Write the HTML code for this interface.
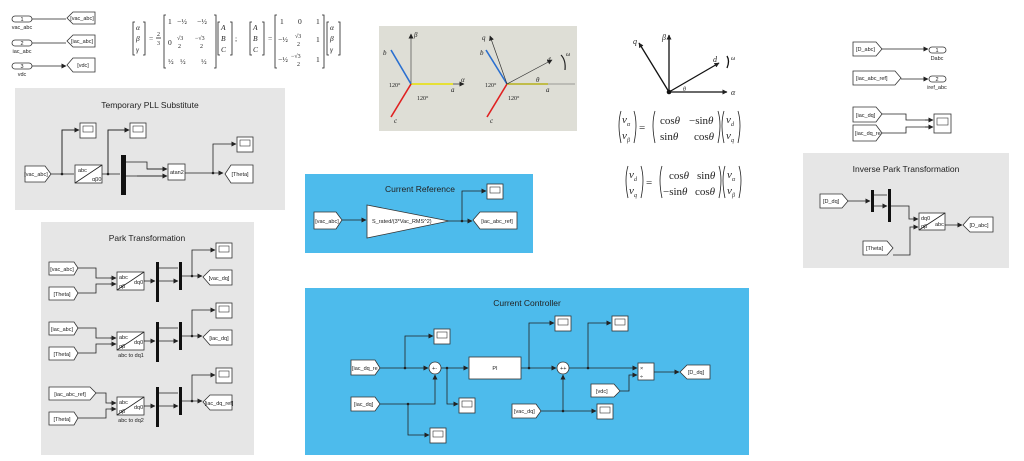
<!DOCTYPE html>
<html><head><meta charset="utf-8"><style>
html,body{margin:0;padding:0;background:#fff;}
svg{display:block;font-family:"Liberation Sans",sans-serif;}
.t{font-size:5.5px;fill:#222}
.ti{font-size:8.5px;fill:#222}
.ln{stroke:#222;stroke-width:0.8;fill:none}
.bk{fill:#fff;stroke:#333;stroke-width:0.8}
.m{font-family:"Liberation Serif",serif;font-style:italic;fill:#222}
.r{font-family:"Liberation Serif",serif;fill:#222}
</style></head><body>
<svg width="1024" height="461" viewBox="0 0 1024 461" xmlns="http://www.w3.org/2000/svg">
<defs>
<marker id="a" markerWidth="5" markerHeight="5" refX="4.5" refY="2.5" orient="auto" markerUnits="userSpaceOnUse"><path d="M0,0 L5,2.5 L0,5 Z" fill="#222"/></marker>
<g id="sc"><rect x="0" y="0" width="16" height="15" class="bk"/><rect x="3" y="3" width="10" height="6" fill="#fff" stroke="#333" stroke-width="0.6"/></g>
</defs>

<!-- top-left inports -->
<g>
<rect x="12" y="16" width="20" height="6" rx="3" class="bk"/><text x="22" y="21" class="t" text-anchor="middle">1</text><text x="22" y="29" class="t" text-anchor="middle">vac_abc</text>
<rect x="12" y="40" width="20" height="6" rx="3" class="bk"/><text x="22" y="45" class="t" text-anchor="middle">2</text><text x="22" y="53" class="t" text-anchor="middle">iac_abc</text>
<rect x="12" y="63" width="20" height="6" rx="3" class="bk"/><text x="22" y="68" class="t" text-anchor="middle">3</text><text x="22" y="76" class="t" text-anchor="middle">vdc</text>
<path d="M32 19H66M32 43H66M32 66H66" class="ln" marker-end="url(#a)"/>
<path d="M95 12H73L67 18L73 24H95Z" class="bk"/><text x="82" y="20" class="t" text-anchor="middle">[vac_abc]</text>
<path d="M95 35H73L67 41L73 47H95Z" class="bk"/><text x="82" y="43" class="t" text-anchor="middle">[iac_abc]</text>
<path d="M95 58H73L67 65L73 72H95Z" class="bk"/><text x="83" y="67" class="t" text-anchor="middle">[vdc]</text>
</g>

<!-- matrices -->
<g font-size="7.5">
<text x="136" y="30" class="m">α</text><text x="136" y="41" class="m">β</text><text x="136" y="52" class="m">γ</text>
<path d="M135 22h-2v33h2M143 22h2v33h-2" class="ln"/>
<text x="149" y="41" class="r">=</text><text x="157" y="36" class="r" font-size="6">2</text><path d="M156 38h5" class="ln"/><text x="157" y="45" class="r" font-size="6">3</text>
<path d="M166 15h-2v53h2M214 15h2v53h-2" class="ln"/>
<text x="168" y="24" class="r">1</text><text x="177" y="24" class="r">−½</text><text x="197" y="24" class="r">−½</text>
<text x="168" y="45" class="r">0</text><text x="177" y="40" class="r" font-size="6">√3</text><text x="178" y="48" class="r" font-size="6">2</text><text x="195" y="40" class="r" font-size="6">−√3</text><text x="200" y="48" class="r" font-size="6">2</text>
<text x="168" y="64" class="r">½</text><text x="180" y="64" class="r">½</text><text x="201" y="64" class="r">½</text>
<path d="M220 22h-2v33h2M230 22h2v33h-2" class="ln"/>
<text x="221" y="30" class="m">A</text><text x="221" y="41" class="m">B</text><text x="221" y="52" class="m">C</text><text x="235" y="41" class="r">;</text>
<path d="M252 22h-2v33h2M262 22h2v33h-2" class="ln"/>
<text x="253" y="30" class="m">A</text><text x="253" y="41" class="m">B</text><text x="253" y="52" class="m">C</text>
<text x="268" y="41" class="r">=</text>
<path d="M277 15h-2v53h2M322 15h2v53h-2" class="ln"/>
<text x="280" y="24" class="r">1</text><text x="298" y="24" class="r">0</text><text x="316" y="24" class="r">1</text>
<text x="278" y="42" class="r">−½</text><text x="295" y="38" class="r" font-size="6">√3</text><text x="297" y="46" class="r" font-size="6">2</text><text x="316" y="42" class="r">1</text>
<text x="278" y="62" class="r">−½</text><text x="291" y="58" class="r" font-size="6">−√3</text><text x="297" y="66" class="r" font-size="6">2</text><text x="316" y="62" class="r">1</text>
<path d="M329 22h-2v33h2M338 22h2v33h-2" class="ln"/>
<text x="330" y="30" class="m">α</text><text x="330" y="41" class="m">β</text><text x="330" y="52" class="m">γ</text>
</g>

<!-- Temporary PLL -->
<rect x="15" y="88" width="270" height="122" fill="#e6e6e6"/>
<text x="150" y="108" class="ti" text-anchor="middle">Temporary PLL Substitute</text>
<path d="M25 166H45L51 174L45 182H25Z" class="bk"/><text x="36" y="176" class="t" text-anchor="middle">[vac_abc]</text>
<path d="M51 174H74M62 174V130H79M102 174H120M108 174V130H129" class="ln" marker-end="url(#a)"/>
<path d="M62 174V130H79" class="ln" marker-end="url(#a)"/>
<path d="M108 174V130H129" class="ln" marker-end="url(#a)"/>
<circle cx="62" cy="174" r="1.3" fill="#222"/><circle cx="108" cy="174" r="1.3" fill="#222"/>
<rect x="75" y="165" width="27" height="18" class="bk"/><path d="M75 183L102 165" class="ln"/><text x="78" y="172" class="t">abc</text><text x="92" y="181" class="t">αβ0</text>
<use href="#sc" x="80" y="123"/><use href="#sc" x="130" y="123"/>
<rect x="121" y="155" width="5" height="40" fill="#111"/>
<path d="M126 162H147V169H167M126 176H137V176H167" class="ln"/>
<path d="M147 169H167" class="ln" marker-end="url(#a)"/><path d="M137 176H167" class="ln" marker-end="url(#a)"/>
<rect x="168" y="164" width="17" height="16" class="bk"/><text x="170" y="174" class="t">atan2</text>
<path d="M185 173H223" class="ln" marker-end="url(#a)"/><path d="M213 173V144H236" class="ln" marker-end="url(#a)"/><circle cx="213" cy="173" r="1.3" fill="#222"/>
<use href="#sc" x="237" y="137"/>
<path d="M253 165H231L225 174L231 183H253Z" class="bk"/><text x="240" y="176" class="t" text-anchor="middle">[Theta]</text>

<!-- Park Transformation -->
<rect x="41" y="222" width="213" height="233" fill="#e6e6e6"/>
<text x="147" y="241" class="ti" text-anchor="middle">Park Transformation</text>
<g id="row">
<path d="M49 262H74L78 268L74 275H49Z" class="bk"/>
<path d="M49 287H74L78 293L74 300H49Z" class="bk"/><text x="62" y="296" class="t" text-anchor="middle">[Theta]</text>
<path d="M78 268H96V278H116M78 293H96V284H116" class="ln"/>
<path d="M110 278H116" class="ln" marker-end="url(#a)"/><path d="M110 284H116" class="ln" marker-end="url(#a)"/>
<rect x="117" y="272" width="27" height="18" class="bk"/><path d="M117 290L144 272" class="ln"/><text x="119" y="279" class="t">abc</text><text x="119" y="288" class="t">αβ</text><text x="134" y="284" class="t">dq0</text>
<path d="M144 281H155" class="ln" marker-end="url(#a)"/>
<rect x="156" y="262" width="3" height="40" fill="#111"/>
<path d="M159 268H178M159 281H178" class="ln" marker-end="url(#a)"/>
<rect x="179" y="262" width="3" height="28" fill="#111"/>
<path d="M182 276H202" class="ln" marker-end="url(#a)"/><path d="M192 276V250H215" class="ln" marker-end="url(#a)"/><circle cx="192" cy="276" r="1.3" fill="#222"/>
<use href="#sc" x="216" y="243"/>
<path d="M232 270H210L203 277L210 285H232Z" class="bk"/>
</g>
<text x="62" y="271" class="t" text-anchor="middle">[vac_abc]</text><text x="219" y="280" class="t" text-anchor="middle">[vac_dq]</text>
<use href="#row" y="60"/>
<text x="62" y="331" class="t" text-anchor="middle">[iac_abc]</text><text x="219" y="340" class="t" text-anchor="middle">[iac_dq]</text><text x="131" y="357" class="t" text-anchor="middle">abc to dq1</text>
<g transform="translate(0,125)">
<path d="M49 262H90L96 268L90 275H49Z" class="bk"/>
<path d="M49 287H74L78 293L74 300H49Z" class="bk"/><text x="62" y="296" class="t" text-anchor="middle">[Theta]</text>
<path d="M96 268H106V278H116M78 293H106V284H116" class="ln"/>
<path d="M110 278H116" class="ln" marker-end="url(#a)"/><path d="M110 284H116" class="ln" marker-end="url(#a)"/>
<rect x="117" y="272" width="27" height="18" class="bk"/><path d="M117 290L144 272" class="ln"/><text x="119" y="279" class="t">abc</text><text x="119" y="288" class="t">αβ</text><text x="134" y="284" class="t">dq0</text>
<path d="M144 281H155" class="ln" marker-end="url(#a)"/>
<rect x="156" y="262" width="3" height="40" fill="#111"/>
<path d="M159 268H178M159 281H178" class="ln" marker-end="url(#a)"/>
<rect x="179" y="262" width="3" height="28" fill="#111"/>
<path d="M182 276H202" class="ln" marker-end="url(#a)"/><path d="M192 276V250H215" class="ln" marker-end="url(#a)"/><circle cx="192" cy="276" r="1.3" fill="#222"/>
<use href="#sc" x="216" y="243"/>
<path d="M232 270H210L203 277L210 285H232Z" class="bk"/>
</g>
<text x="70" y="396" class="t" text-anchor="middle">[iac_abc_ref]</text><text x="219" y="405" class="t" text-anchor="middle">[iac_dq_ref]</text><text x="131" y="422" class="t" text-anchor="middle">abc to dq2</text>

<!-- image panel -->
<rect x="379" y="26" width="198" height="105" fill="#deded6"/>
<g stroke-width="1.6">
<path d="M411 84V34" stroke="#333" stroke-width="0.6" marker-end="url(#a)"/>
<path d="M411 84H464" stroke="#333" stroke-width="0.7" marker-end="url(#a)"/>
<path d="M411 84H453" stroke="#e8e000" stroke-width="1.4"/>
<path d="M411 84L391 50" stroke="#2a6fd0"/><path d="M411 84L391 117" stroke="#e02020"/>
<path d="M507 84L486 50" stroke="#2a6fd0"/><path d="M507 84L487 117" stroke="#e02020"/>
<path d="M507 84H548" stroke="#e8e000" stroke-width="1.4"/>
<path d="M507 84H575" stroke="#555" stroke-width="0.5"/>
<path d="M507 84L490 36" stroke="#333" stroke-width="0.7" marker-end="url(#a)"/>
<path d="M507 84L552 60" stroke="#333" stroke-width="0.7" marker-end="url(#a)"/>
<path d="M561 55Q566 60 565 70" stroke="#222" stroke-width="1.2" fill="none"/>
</g>
<g class="m" font-size="7"><text x="414" y="37">β</text><text x="383" y="55">b</text><text x="394" y="123">c</text><text x="461" y="82">α</text><text x="451" y="92">a</text>
<text x="482" y="40">q</text><text x="480" y="55">b</text><text x="490" y="123">c</text><text x="547" y="62">d</text><text x="536" y="82">θ</text><text x="546" y="92">a</text><text x="566" y="56" font-size="6">ω</text></g>
<g class="r" font-size="6"><text x="389" y="87">120°</text><text x="417" y="100">120°</text><text x="485" y="87">120°</text><text x="508" y="100">120°</text></g>

<!-- Current Reference -->
<rect x="305" y="174" width="228" height="79" fill="#4dbbec"/>
<text x="420" y="192" class="ti" text-anchor="middle">Current Reference</text>
<path d="M314 212H336L342 220L336 229H314Z" class="bk"/><text x="327" y="223" class="t" text-anchor="middle">[vac_abc]</text>
<path d="M342 220H366" class="ln" marker-end="url(#a)"/>
<path d="M367 205L449 221L367 238Z" class="bk"/><text x="372" y="223" class="t">S_rated/(3*Vac_RMS^2)</text>
<path d="M449 221H472" class="ln" marker-end="url(#a)"/><path d="M462 221V191H486" class="ln" marker-end="url(#a)"/><circle cx="462" cy="221" r="1.3" fill="#222"/>
<use href="#sc" x="487" y="184"/>
<path d="M517 212H480L473 220L480 229H517Z" class="bk"/><text x="497" y="223" class="t" text-anchor="middle">[iac_abc_ref]</text>

<!-- Current Controller -->
<rect x="305" y="288" width="444" height="167" fill="#4dbbec"/>
<text x="527" y="306" class="ti" text-anchor="middle">Current Controller</text>
<path d="M351 360H375L380 368L375 375H351Z" class="bk"/><text x="352" y="370" class="t">[iac_dq_re</text>
<path d="M380 368H428" class="ln" marker-end="url(#a)"/><path d="M405 368V336H433" class="ln" marker-end="url(#a)"/><circle cx="405" cy="368" r="1.3" fill="#222"/>
<use href="#sc" x="434" y="329"/>
<circle cx="435" cy="368" r="6" class="bk"/><text x="432" y="370" class="t">+-</text>
<path d="M351 397H375L380 404L375 411H351Z" class="bk"/><text x="354" y="406" class="t">[iac_dq]</text>
<path d="M380 404H435V375" class="ln" marker-end="url(#a)"/><path d="M408 404V435H429" class="ln" marker-end="url(#a)"/><circle cx="408" cy="404" r="1.3" fill="#222"/>
<use href="#sc" x="430" y="428"/>
<path d="M441 368H468" class="ln" marker-end="url(#a)"/><path d="M447 368V404H458" class="ln" marker-end="url(#a)"/><circle cx="447" cy="368" r="1.3" fill="#222"/>
<use href="#sc" x="459" y="398"/>
<rect x="469" y="357" width="52" height="22" class="bk"/><text x="495" y="370" class="t" text-anchor="middle">PI</text>
<path d="M521 368H556" class="ln" marker-end="url(#a)"/><path d="M529 368V323H554" class="ln" marker-end="url(#a)"/><circle cx="529" cy="368" r="1.3" fill="#222"/>
<use href="#sc" x="555" y="316"/>
<circle cx="563" cy="368" r="6" class="bk"/><text x="560" y="370" class="t">++</text>
<path d="M541 411H563V375" class="ln" marker-end="url(#a)"/><path d="M563 411H596" class="ln" marker-end="url(#a)"/><circle cx="563" cy="411" r="1.3" fill="#222"/>
<path d="M512 404H536L541 411L536 418H512Z" class="bk"/><text x="514" y="413" class="t">[vac_dq]</text>
<use href="#sc" x="597" y="404"/>
<path d="M569 368H637" class="ln" marker-end="url(#a)"/><path d="M588 368V323H611" class="ln" marker-end="url(#a)"/><circle cx="588" cy="368" r="1.3" fill="#222"/>
<use href="#sc" x="612" y="316"/>
<path d="M591 384H614L620 391L614 397H591Z" class="bk"/><text x="596" y="393" class="t">[vdc]</text>
<path d="M620 391H629V375H637" class="ln" marker-end="url(#a)"/>
<rect x="638" y="363" width="16" height="17" class="bk"/><text x="640" y="370" class="t">×</text><text x="640" y="378" class="t">÷</text>
<path d="M654 372H679" class="ln" marker-end="url(#a)"/>
<path d="M710 365H687L680 372L687 379H710Z" class="bk"/><text x="696" y="374" class="t" text-anchor="middle">[D_dq]</text>

<!-- dq axes -->
<g stroke="#111" stroke-width="1.3">
<path d="M669 92V35" marker-end="url(#a)"/><path d="M669 92H727" marker-end="url(#a)"/>
<path d="M669 92L639 43" marker-end="url(#a)"/><path d="M669 92L719 63" marker-end="url(#a)"/>
<path d="M727 56Q730 61 727 68" fill="none"/>
</g>
<circle cx="669" cy="92" r="2.3" fill="#111"/>
<g class="m" font-size="8"><text x="662" y="40">β</text><text x="633" y="44">q</text><text x="713" y="62">d</text><text x="731" y="60" font-size="6">ω</text><text x="683" y="91" font-size="6">θ</text><text x="731" y="95">α</text></g>
<g class="r" font-size="11">
<text x="622" y="123"><tspan class="m">v</tspan></text><text x="627" y="126" class="m" font-size="6">α</text>
<text x="622" y="139" class="m">v</text><text x="627" y="142" class="m" font-size="6">β</text>
<path d="M621 111q-4 13 0 32M634 111q4 13 0 32M655 111q-4 13 0 32M718 111q4 13 0 32M724 111q-4 13 0 32M738 111q4 13 0 32" class="ln"/>
<text x="639" y="131">=</text>
<text x="660" y="124">cos<tspan class="m">θ</tspan></text><text x="689" y="124">−sin<tspan class="m">θ</tspan></text>
<text x="660" y="140">sin<tspan class="m">θ</tspan></text><text x="694" y="140">cos<tspan class="m">θ</tspan></text>
<text x="726" y="123" class="m">v</text><text x="731" y="126" class="m" font-size="6">d</text>
<text x="726" y="139" class="m">v</text><text x="731" y="142" class="m" font-size="6">q</text>
<g transform="translate(7,55)">
<text x="622" y="123" class="m">v</text><text x="627" y="126" class="m" font-size="6">d</text>
<text x="622" y="139" class="m">v</text><text x="627" y="142" class="m" font-size="6">q</text>
<path d="M621 111q-4 13 0 32M634 111q4 13 0 32M655 111q-4 13 0 32M712 111q4 13 0 32M718 111q-4 13 0 32M732 111q4 13 0 32" class="ln"/>
<text x="639" y="131">=</text>
<text x="662" y="124">cos<tspan class="m">θ</tspan></text><text x="690" y="124">sin<tspan class="m">θ</tspan></text>
<text x="656" y="140">−sin<tspan class="m">θ</tspan></text><text x="688" y="140">cos<tspan class="m">θ</tspan></text>
<text x="720" y="123" class="m">v</text><text x="725" y="126" class="m" font-size="6">α</text>
<text x="720" y="139" class="m">v</text><text x="725" y="142" class="m" font-size="6">β</text>
</g>
</g>

<!-- right top tags -->
<path d="M853 42H876L882 49L876 56H853Z" class="bk"/><text x="856" y="51" class="t">[D_abc]</text>
<path d="M882 49H928" class="ln" marker-end="url(#a)"/>
<rect x="929" y="47" width="17" height="6" rx="3" class="bk"/><text x="937" y="52" class="t" text-anchor="middle">1</text><text x="937" y="60" class="t" text-anchor="middle">Dabc</text>
<path d="M853 71H895L901 78L895 85H853Z" class="bk"/><text x="856" y="80" class="t">[iac_abc_ref]</text>
<path d="M901 79H928" class="ln" marker-end="url(#a)"/>
<rect x="929" y="76" width="17" height="6" rx="3" class="bk"/><text x="937" y="81" class="t" text-anchor="middle">2</text><text x="937" y="89" class="t" text-anchor="middle">iref_abc</text>
<path d="M853 107H876L882 114L876 122H853Z" class="bk"/><text x="856" y="117" class="t">[iac_dq]</text>
<path d="M853 125H876L882 133L876 141H853Z" class="bk"/><text x="855" y="135" class="t">[iac_dq_re</text>
<path d="M882 114H906V120H933M882 133H906V127H933" class="ln"/>
<path d="M925 120H933" class="ln" marker-end="url(#a)"/><path d="M925 127H933" class="ln" marker-end="url(#a)"/>
<rect x="934" y="114" width="17" height="19" class="bk"/><rect x="937" y="118" width="11" height="7" fill="#fff" stroke="#333" stroke-width="0.6"/>

<!-- Inverse Park -->
<rect x="803" y="153" width="206" height="115" fill="#e6e6e6"/>
<text x="906" y="172" class="ti" text-anchor="middle">Inverse Park Transformation</text>
<path d="M820 194H842L848 201L842 208H820Z" class="bk"/><text x="823" y="203" class="t">[D_dq]</text>
<path d="M848 201H870" class="ln" marker-end="url(#a)"/>
<rect x="871" y="190" width="3" height="22" fill="#111"/>
<path d="M874 195H887M874 206H887" class="ln" marker-end="url(#a)"/>
<rect x="888" y="189" width="3" height="33" fill="#111"/>
<path d="M891 206H909V219H918" class="ln" marker-end="url(#a)"/>
<path d="M893 255H910V227H918" class="ln" marker-end="url(#a)"/>
<rect x="919" y="213" width="26" height="17" class="bk"/><path d="M919 230L945 213" class="ln"/><text x="921" y="220" class="t">dq0</text><text x="921" y="228" class="t">αβ</text><text x="935" y="226" class="t">abc</text>
<path d="M945 225H962" class="ln" marker-end="url(#a)"/>
<path d="M993 217H970L963 225L970 232H993Z" class="bk"/><text x="979" y="227" class="t" text-anchor="middle">[D_abc]</text>
<path d="M863 241H887L893 248L887 255H863Z" class="bk"/><text x="866" y="250" class="t">[Theta]</text>
</svg>
</body></html>
